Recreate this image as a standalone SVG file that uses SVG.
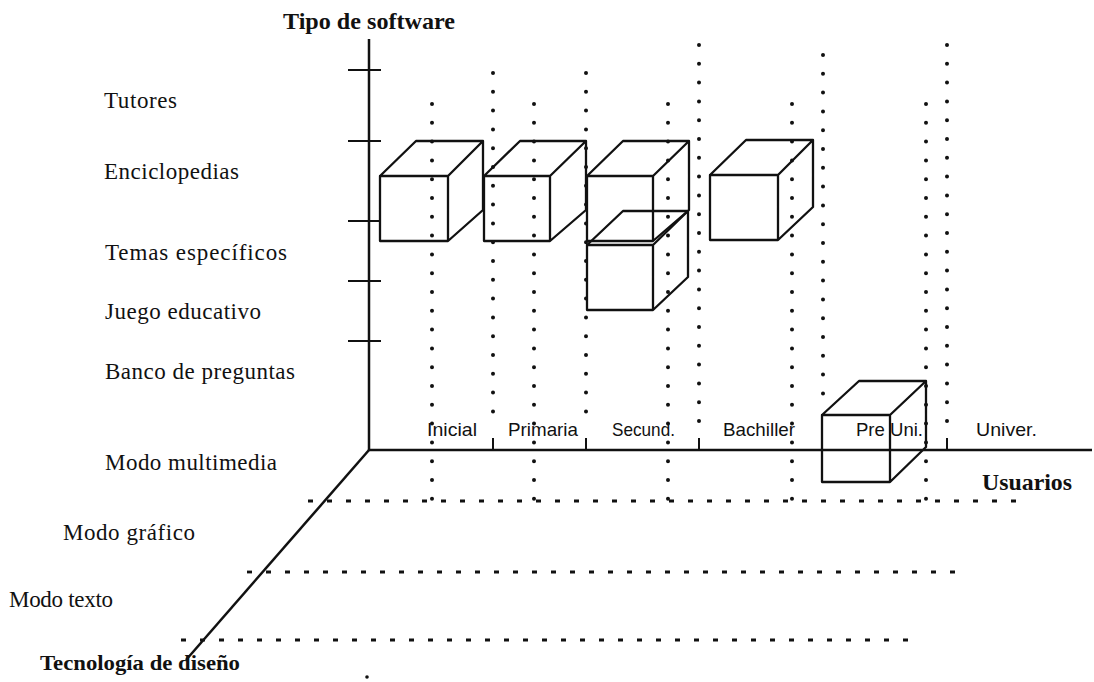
<svg xmlns="http://www.w3.org/2000/svg" width="1094" height="682" viewBox="0 0 1094 682">
<style>
.ax{stroke:#111;stroke-width:2.5;fill:none}
.tk{stroke:#111;stroke-width:2;fill:none}
.dots{stroke:#111;stroke-width:4;stroke-linecap:round;stroke-dasharray:0 18.8;fill:none}
.dash{stroke:#111;stroke-width:2.8;stroke-dasharray:5 14;fill:none}
.cube{stroke:#111;stroke-width:2.3;fill:none;stroke-linejoin:round}
.lbl{font-family:"Liberation Serif","Times New Roman",serif;font-size:23px;fill:#111}
.bold{font-family:"Liberation Serif","Times New Roman",serif;font-size:24px;font-weight:bold;fill:#111}
.cat{font-family:"Liberation Sans",Arial,sans-serif;font-size:19px;fill:#111}
</style>
<rect width="1094" height="682" fill="#fff"/>
<g id="connectors">
  <line class="ax" x1="369" y1="39" x2="369" y2="450"/>
  <line class="ax" x1="368" y1="450" x2="1092" y2="450"/>
  <line class="ax" x1="369" y1="450" x2="186" y2="660"/>
  <line class="tk" x1="348" y1="70" x2="381" y2="70"/>
  <line class="tk" x1="348" y1="141" x2="381" y2="141"/>
  <line class="tk" x1="348" y1="221" x2="381" y2="221"/>
  <line class="tk" x1="348" y1="281" x2="381" y2="281"/>
  <line class="tk" x1="348" y1="341" x2="381" y2="341"/>
  <line class="tk" x1="493" y1="438" x2="493" y2="450"/>
  <line class="tk" x1="586" y1="438" x2="586" y2="450"/>
  <line class="tk" x1="699" y1="438" x2="699" y2="450"/>
  <line class="tk" x1="947" y1="438" x2="947" y2="450"/>
  <line class="dots" x1="432" y1="104" x2="432" y2="500"/>
  <line class="dots" x1="493" y1="73" x2="493" y2="430"/>
  <line class="dots" x1="534" y1="104" x2="534" y2="500"/>
  <line class="dots" x1="586" y1="73" x2="586" y2="430"/>
  <line class="dots" x1="668" y1="104" x2="668" y2="500"/>
  <line class="dots" x1="699" y1="45" x2="699" y2="430"/>
  <line class="dots" x1="792" y1="104" x2="792" y2="500"/>
  <line class="dots" x1="823" y1="55" x2="823" y2="405"/>
  <line class="dots" x1="926" y1="104" x2="926" y2="500"/>
  <line class="dots" x1="947" y1="45" x2="947" y2="430"/>
  <line class="dash" x1="308" y1="501" x2="1030" y2="501"/>
  <line class="dash" x1="247" y1="572" x2="968" y2="572"/>
  <line class="dash" x1="181" y1="640" x2="908" y2="640"/>
  <circle cx="367" cy="677" r="1.8" fill="#111"/>
</g>
<g id="cube-inicial">
  <path class="cube" d="M380 176 H448 V241 H380 Z M380 176 L416 141 H483 L448 176 M483 141 V210 L448 241"/>
</g>
<g id="cube-primaria">
  <path class="cube" d="M484 176 H550 V241 H484 Z M484 176 L520 141 H586 L550 176 M586 141 V210 L550 241"/>
</g>
<g id="cube-secund-1">
  <path class="cube" d="M587 176 H653 V241 H587 Z M587 176 L623 141 H689 L653 176 M689 141 V210 L653 241"/>
</g>
<g id="cube-secund-2">
  <path class="cube" d="M587 245 H653 V310 H587 Z M587 245 L623 211 H688 L653 245 M688 211 V277 L653 310"/>
</g>
<g id="cube-bachiller">
  <path class="cube" d="M710 175 H778 V240 H710 Z M710 175 L746 140 H813 L778 175 M813 140 V207 L778 240"/>
</g>
<g id="cube-preuni">
  <path class="cube" d="M822 415 H890 V482 H822 Z M822 415 L859 381 H926 L890 415 M926 381 V447 L890 482"/>
</g>
<g id="axis-labels">
  <text class="bold" x="283" y="29" textLength="172" lengthAdjust="spacingAndGlyphs">Tipo de software</text>
  <text class="bold" x="982" y="490" textLength="90" lengthAdjust="spacingAndGlyphs">Usuarios</text>
  <text class="bold" x="40" y="670" style="font-size:22px" textLength="200" lengthAdjust="spacingAndGlyphs">Tecnología de diseño</text>
</g>
<g id="type-labels">
  <text class="lbl" x="104" y="108" textLength="73" lengthAdjust="spacing">Tutores</text>
  <text class="lbl" x="104" y="179" textLength="135" lengthAdjust="spacing">Enciclopedias</text>
  <text class="lbl" x="105" y="260" textLength="182" lengthAdjust="spacing">Temas  específicos</text>
  <text class="lbl" x="105" y="319" textLength="156" lengthAdjust="spacing">Juego educativo</text>
  <text class="lbl" x="105" y="379" textLength="190" lengthAdjust="spacing">Banco de preguntas</text>
</g>
<g id="tech-labels">
  <text class="lbl" x="105" y="470" textLength="172" lengthAdjust="spacing">Modo multimedia</text>
  <text class="lbl" x="63" y="540" textLength="132" lengthAdjust="spacing">Modo gráfico</text>
  <text class="lbl" x="9" y="607" textLength="104" lengthAdjust="spacing">Modo texto</text>
</g>
<g id="user-labels">
  <text class="cat" x="427" y="436" textLength="50" lengthAdjust="spacingAndGlyphs">Inicial</text>
  <text class="cat" x="508" y="436" textLength="70" lengthAdjust="spacingAndGlyphs">Primaria</text>
  <text class="cat" x="612" y="436" textLength="63" lengthAdjust="spacingAndGlyphs">Secund.</text>
  <text class="cat" x="723" y="436" textLength="72" lengthAdjust="spacingAndGlyphs">Bachiller</text>
  <text class="cat" x="856" y="436" textLength="67" lengthAdjust="spacingAndGlyphs">Pre Uni.</text>
  <text class="cat" x="976" y="436" textLength="61" lengthAdjust="spacingAndGlyphs">Univer.</text>
</g>
</svg>
